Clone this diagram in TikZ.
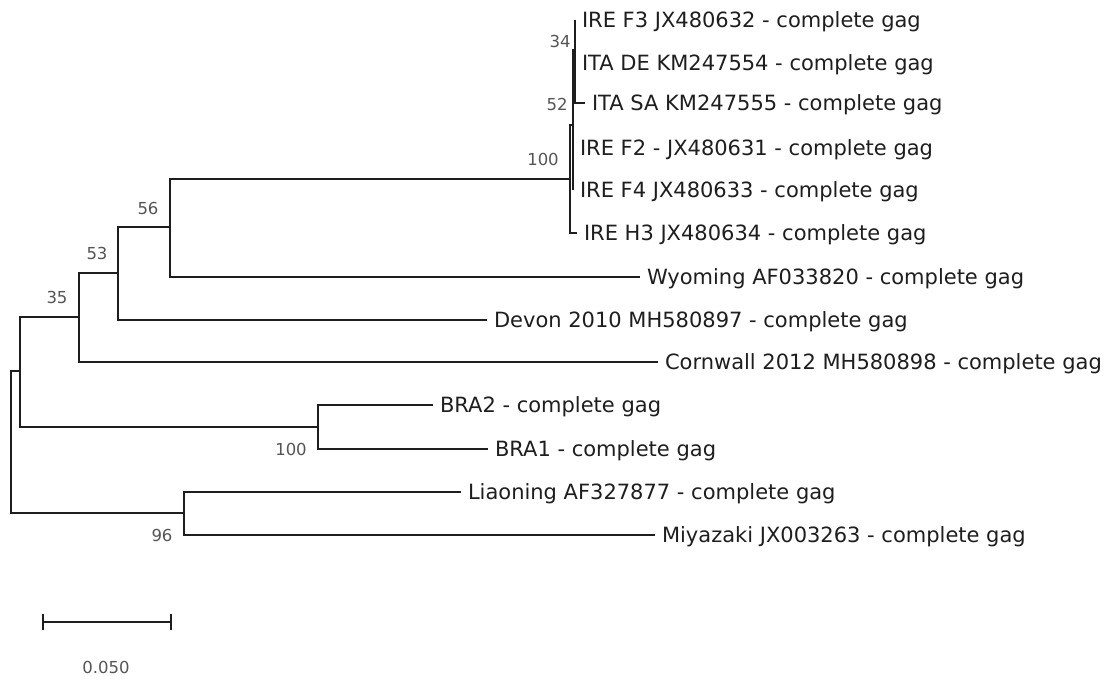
\documentclass[tikz,border=0pt]{standalone}
\usepackage{fontspec}
\setmainfont{DejaVu Sans}
\definecolor{ink}{HTML}{1E1E1E}
\definecolor{support}{HTML}{555555}
\begin{document}
\begin{tikzpicture}[x=1pt,y=-1pt,
  branch/.style={draw=ink, line width=1.6pt},
  leaf/.style={anchor=west, inner xsep=7pt, inner ysep=0pt, outer sep=0pt,
    text height=15pt, text depth=0pt, text=ink, font=\fontsize{21}{24}\selectfont},
  boot/.style={text=support, inner sep=0pt, font=\fontsize{16.5}{19}\selectfont}]
\useasboundingbox[fill=white] (0,0) rectangle (1119,681);

% internal nodes
\coordinate (root) at (11,442);
\coordinate (nx)   at (20,371);
\coordinate (n96)  at (184,513);
\coordinate (n35)  at (79,317);
\coordinate (nbra) at (318,427);
\coordinate (n53)  at (118,273);
\coordinate (n56)  at (170,227);
\coordinate (n100) at (570,179);
\coordinate (nc)   at (573,125);
\coordinate (nd)   at (575,50);

% taxa
\node[leaf] (f3)    at (575,20)  {IRE F3 JX480632 - complete gag};
\node[leaf] (itade) at (575,63)  {ITA DE KM247554 - complete gag};
\node[leaf] (itasa) at (585,103) {ITA SA KM247555 - complete gag};
\node[leaf] (f2)    at (573,148) {IRE F2 - JX480631 - complete gag};
\node[leaf] (f4)    at (573,190) {IRE F4 JX480633 - complete gag};
\node[leaf] (h3)    at (577,233) {IRE H3 JX480634 - complete gag};
\node[leaf] (wyo)   at (640,277) {Wyoming AF033820 - complete gag};
\node[leaf] (dev)   at (487,320) {Devon 2010 MH580897 - complete gag};
\node[leaf] (corn)  at (658,362) {Cornwall 2012 MH580898 - complete gag};
\node[leaf] (bra2)  at (433,405) {BRA2 - complete gag};
\node[leaf] (bra1)  at (488,449) {BRA1 - complete gag};
\node[leaf] (liao)  at (461,492) {Liaoning AF327877 - complete gag};
\node[leaf] (miya)  at (655,535) {Miyazaki JX003263 - complete gag};

% branches
\draw[branch] (nx) -| (root) |- (n96);
\draw[branch] (n35) -| (nx) |- (nbra);
\draw[branch] (n53) -| (n35) |- (corn.west);
\draw[branch] (n56) -| (n53) |- (dev.west);
\draw[branch] (n100) -| (n56) |- (wyo.west);
\draw[branch] (nc) -| (n100) |- (h3.west);
\draw[branch] (nd) -| (nc) |- (f4.west);
\draw[branch] (nc) |- (f2.west);
\draw[branch] (f3.west) -| (nd) |- (itasa.west);
\draw[branch] (nd) |- (itade.west);
\draw[branch] (bra2.west) -| (nbra) |- (bra1.west);
\draw[branch] (liao.west) -| (n96) |- (miya.west);

% bootstrap support
\node[boot] (b34)  at (560,41)  {34};
\node[boot] (b52)  at (557,104) {52};
\node[boot] (b100) at (543,159) {100};
\node[boot] (b56)  at (148,208) {56};
\node[boot] (b53)  at (97,253)  {53};
\node[boot] (b35)  at (57,297)  {35};
\node[boot] (b100b) at (291,449) {100};
\node[boot] (b96)  at (162,535) {96};

% scale bar
\coordinate (s0) at (43,622);
\coordinate (s1) at (171,622);
\draw[branch] (s0) -- (s1);
\draw[branch] (s0) ++(0,-8) -- ++(0,16);
\draw[branch] (s1) ++(0,-8) -- ++(0,16);
\node[boot] (scale) at (106,667) {0.050};
\end{tikzpicture}
\end{document}
